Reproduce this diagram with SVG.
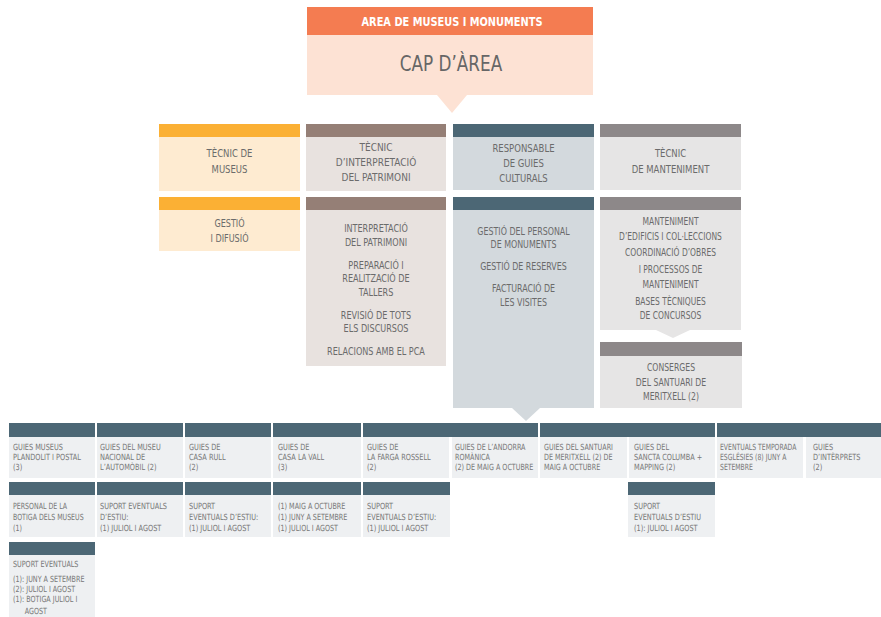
<svg xmlns="http://www.w3.org/2000/svg" width="881" height="617" viewBox="0 0 881 617">
<style>
text{font-family:"DejaVu Sans Condensed","Liberation Sans Narrow","Liberation Sans",sans-serif;fill:#6b6b6b}
.c{text-anchor:middle;font-size:10.5px}
.m{text-anchor:middle;font-size:10px}
.s{font-size:8.5px;fill:#777}
.h1{fill:#fff;font-size:13px;text-anchor:middle;font-weight:bold}
.h2{font-size:22px;text-anchor:middle;fill:#666}
.bh{fill:#4c6775}
.bb{fill:#eef0f2}
</style>
<rect width="881" height="617" fill="#fff"/>
<g id="cap-area">
<rect x="307" y="35" width="286" height="60" fill="#fde2d4"/>
<polygon points="437,95 467,95 452,113" fill="#fde2d4"/>
<rect x="307" y="7" width="286" height="28" fill="#f47c51"/>
<g transform="translate(452 0) scale(0.84 1)"><text class="h1" x="0" y="26">AREA DE MUSEUS I MONUMENTS</text></g>
<g transform="translate(451 0) scale(0.85 1)"><text class="h2" x="0" y="71">CAP D’ÀREA</text></g>
</g>
<g id="tecnic-museus">
<rect x="159" y="137" width="141" height="54" fill="#feebd1"/>
<rect x="159" y="124" width="141" height="13" fill="#fbb034"/>
<g transform="translate(229.5 0) scale(0.9 1)">
<text class="c" x="0" y="157">TÈCNIC DE</text>
<text class="c" x="0" y="173">MUSEUS</text>
</g>
</g>
<g id="gestio-difusio">
<rect x="159" y="210" width="141" height="41" fill="#feebd1"/>
<rect x="159" y="197" width="141" height="13" fill="#fbb034"/>
<g transform="translate(229.5 0) scale(0.9 1)">
<text class="m" x="0" y="227">GESTIÓ</text>
<text class="m" x="0" y="242">I DIFUSIÓ</text>
</g>
</g>
<g id="tecnic-interpretacio">
<rect x="306" y="137" width="140" height="54" fill="#e8e2df"/>
<rect x="306" y="124" width="140" height="13" fill="#957f76"/>
<g transform="translate(376 0) scale(0.95 1)">
<text class="c" x="0" y="151">TÈCNIC</text>
<text class="c" x="0" y="166">D’INTERPRETACIÓ</text>
<text class="c" x="0" y="181">DEL PATRIMONI</text>
</g>
</g>
<g id="interpretacio-tasques">
<rect x="306" y="210" width="140" height="156" fill="#e8e2df"/>
<rect x="306" y="197" width="140" height="13" fill="#957f76"/>
<g transform="translate(376 0) scale(0.9 1)">
<text class="m" x="0" y="232.5">INTERPRETACIÓ</text>
<text class="m" x="0" y="246.5">DEL PATRIMONI</text>
<text class="m" x="0" y="269.5">PREPARACIÓ I</text>
<text class="m" x="0" y="282.5">REALITZACIÓ DE</text>
<text class="m" x="0" y="296.5">TALLERS</text>
<text class="m" x="0" y="319.5">REVISIÓ DE TOTS</text>
<text class="m" x="0" y="332.5">ELS DISCURSOS</text>
<text class="m" x="0" y="355.5">RELACIONS AMB EL PCA</text>
</g>
</g>
<g id="responsable-guies">
<rect x="453" y="137" width="141" height="53" fill="#d3d9dd"/>
<rect x="453" y="124" width="141" height="13" fill="#4c6775"/>
<g transform="translate(523.5 0) scale(0.9 1)">
<text class="c" x="0" y="152">RESPONSABLE</text>
<text class="c" x="0" y="167">DE GUIES</text>
<text class="c" x="0" y="182">CULTURALS</text>
</g>
</g>
<g id="guies-tasques">
<rect x="453" y="210" width="141" height="198" fill="#d3d9dd"/>
<polygon points="512,408 540,408 526,421" fill="#d3d9dd"/>
<rect x="453" y="197" width="141" height="13" fill="#4c6775"/>
<g transform="translate(523.5 0) scale(0.88 1)">
<text class="m" x="0" y="235.5">GESTIÓ DEL PERSONAL</text>
<text class="m" x="0" y="248">DE MONUMENTS</text>
<text class="m" x="0" y="270.5">GESTIÓ DE RESERVES</text>
<text class="m" x="0" y="292.5">FACTURACIÓ DE</text>
<text class="m" x="0" y="306.5">LES VISITES</text>
</g>
</g>
<g id="tecnic-manteniment">
<rect x="600" y="137" width="141" height="53" fill="#e6e5e5"/>
<rect x="600" y="124" width="141" height="13" fill="#8d8889"/>
<g transform="translate(670.5 0) scale(0.9 1)">
<text class="c" x="0" y="157">TÈCNIC</text>
<text class="c" x="0" y="173">DE MANTENIMENT</text>
</g>
</g>
<g id="manteniment-tasques">
<rect x="600" y="210" width="141" height="120" fill="#e6e5e5"/>
<polygon points="656,330 690,330 673,338" fill="#e6e5e5"/>
<rect x="600" y="197" width="141" height="13" fill="#8d8889"/>
<g transform="translate(670.5 0) scale(0.84 1)">
<text class="m" x="0" y="225.5">MANTENIMENT</text>
<text class="m" x="0" y="240.5">D’EDIFICIS I COL·LECCIONS</text>
<text class="m" x="0" y="256.5">COORDINACIÓ D’OBRES</text>
<text class="m" x="0" y="273.5">I PROCESSOS DE</text>
<text class="m" x="0" y="288.5">MANTENIMENT</text>
<text class="m" x="0" y="305.5">BASES TÈCNIQUES</text>
<text class="m" x="0" y="319.5">DE CONCURSOS</text>
</g>
</g>
<g id="conserges">
<rect x="600" y="356" width="142" height="52" fill="#e6e5e5"/>
<rect x="600" y="342" width="142" height="14" fill="#8d8889"/>
<g transform="translate(671 0) scale(0.86 1)">
<text class="m" x="0" y="371.5">CONSERGES</text>
<text class="m" x="0" y="386.5">DEL SANTUARI DE</text>
<text class="m" x="0" y="400.5">MERITXELL (2)</text>
</g>
</g>
<g id="bottom-headers">
<rect class="bh" x="9" y="423" width="86" height="14"/>
<rect class="bh" x="97" y="423" width="86" height="14"/>
<rect class="bh" x="185" y="423" width="86" height="14"/>
<rect class="bh" x="273" y="423" width="88" height="14"/>
<rect class="bh" x="363" y="423" width="175" height="14"/>
<rect class="bh" x="540" y="423" width="175" height="14"/>
<rect class="bh" x="717" y="423" width="164" height="14"/>
</g>
<g id="guies-plandolit">
<rect class="bb" x="9" y="437" width="86" height="41"/>
<g transform="translate(13 0) scale(0.86 1)">
<text class="s" x="0" y="450">GUIES MUSEUS</text>
<text class="s" x="0" y="460">PLANDOLIT I POSTAL</text>
<text class="s" x="0" y="470">(3)</text>
</g>
</g>
<g id="guies-automobil">
<rect class="bb" x="97" y="437" width="86" height="41"/>
<g transform="translate(100 0) scale(0.86 1)">
<text class="s" x="0" y="450">GUIES DEL MUSEU</text>
<text class="s" x="0" y="460">NACIONAL DE</text>
<text class="s" x="0" y="470">L’AUTOMÒBIL (2)</text>
</g>
</g>
<g id="guies-casa-rull">
<rect class="bb" x="185" y="437" width="86" height="41"/>
<g transform="translate(189 0) scale(0.86 1)">
<text class="s" x="0" y="450">GUIES DE</text>
<text class="s" x="0" y="460">CASA RULL</text>
<text class="s" x="0" y="470">(2)</text>
</g>
</g>
<g id="guies-casa-vall">
<rect class="bb" x="273" y="437" width="88" height="41"/>
<g transform="translate(278 0) scale(0.86 1)">
<text class="s" x="0" y="450">GUIES DE</text>
<text class="s" x="0" y="460">CASA LA VALL</text>
<text class="s" x="0" y="470">(3)</text>
</g>
</g>
<g id="guies-farga">
<rect class="bb" x="363" y="437" width="86" height="41"/>
<g transform="translate(367 0) scale(0.86 1)">
<text class="s" x="0" y="450">GUIES DE</text>
<text class="s" x="0" y="460">LA FARGA ROSSELL</text>
<text class="s" x="0" y="470">(2)</text>
</g>
</g>
<g id="guies-andorra-romanica">
<rect class="bb" x="452" y="437" width="86" height="41"/>
<g transform="translate(455 0) scale(0.84 1)">
<text class="s" x="0" y="450">GUIES DE L’ANDORRA</text>
<text class="s" x="0" y="460">ROMÀNICA</text>
<text class="s" x="0" y="470">(2) DE MAIG A OCTUBRE</text>
</g>
</g>
<g id="guies-meritxell">
<rect class="bb" x="540" y="437" width="87" height="41"/>
<g transform="translate(544 0) scale(0.84 1)">
<text class="s" x="0" y="450">GUIES DEL SANTUARI</text>
<text class="s" x="0" y="460">DE MERITXELL (2) DE</text>
<text class="s" x="0" y="470">MAIG A OCTUBRE</text>
</g>
</g>
<g id="guies-sancta-columba">
<rect class="bb" x="629" y="437" width="86" height="41"/>
<g transform="translate(634 0) scale(0.86 1)">
<text class="s" x="0" y="450">GUIES DEL</text>
<text class="s" x="0" y="460">SANCTA COLUMBA +</text>
<text class="s" x="0" y="470">MAPPING (2)</text>
</g>
</g>
<g id="eventuals-esglesies">
<rect class="bb" x="717" y="437" width="86" height="41"/>
<g transform="translate(720 0) scale(0.8 1)">
<text class="s" x="0" y="450">EVENTUALS TEMPORADA</text>
<text class="s" x="0" y="460">ESGLÉSIES (8) JUNY A</text>
<text class="s" x="0" y="470">SETEMBRE</text>
</g>
</g>
<g id="guies-interprets">
<rect class="bb" x="806" y="437" width="75" height="41"/>
<g transform="translate(813 0) scale(0.86 1)">
<text class="s" x="0" y="450">GUIES</text>
<text class="s" x="0" y="460">D’INTÈRPRETS</text>
<text class="s" x="0" y="470">(2)</text>
</g>
</g>
<g id="personal-botiga">
<rect class="bh" x="9" y="482" width="86" height="13"/>
<rect class="bb" x="9" y="495" width="86" height="42"/>
<g transform="translate(13 0) scale(0.82 1)">
<text class="s" x="0" y="509">PERSONAL DE LA</text>
<text class="s" x="0" y="520">BOTIGA DELS MUSEUS</text>
<text class="s" x="0" y="531">(1)</text>
</g>
</g>
<g id="suport-automobil">
<rect class="bh" x="97" y="482" width="86" height="13"/>
<rect class="bb" x="97" y="495" width="86" height="42"/>
<g transform="translate(100 0) scale(0.86 1)">
<text class="s" x="0" y="509">SUPORT EVENTUALS</text>
<text class="s" x="0" y="520">D’ESTIU:</text>
<text class="s" x="0" y="531">(1) JULIOL I AGOST</text>
</g>
</g>
<g id="suport-casa-rull">
<rect class="bh" x="185" y="482" width="86" height="13"/>
<rect class="bb" x="185" y="495" width="86" height="42"/>
<g transform="translate(189 0) scale(0.86 1)">
<text class="s" x="0" y="509">SUPORT</text>
<text class="s" x="0" y="520">EVENTUALS D’ESTIU:</text>
<text class="s" x="0" y="531">(1) JULIOL I AGOST</text>
</g>
</g>
<g id="suport-casa-vall">
<rect class="bh" x="273" y="482" width="88" height="13"/>
<rect class="bb" x="273" y="495" width="88" height="42"/>
<g transform="translate(278 0) scale(0.84 1)">
<text class="s" x="0" y="509">(1) MAIG A OCTUBRE</text>
<text class="s" x="0" y="520">(1) JUNY A SETEMBRE</text>
<text class="s" x="0" y="531">(1) JULIOL I AGOST</text>
</g>
</g>
<g id="suport-farga">
<rect class="bh" x="363" y="482" width="87" height="13"/>
<rect class="bb" x="363" y="495" width="87" height="42"/>
<g transform="translate(367 0) scale(0.86 1)">
<text class="s" x="0" y="509">SUPORT</text>
<text class="s" x="0" y="520">EVENTUALS D’ESTIU:</text>
<text class="s" x="0" y="531">(1) JULIOL I AGOST</text>
</g>
</g>
<g id="suport-sancta-columba">
<rect class="bh" x="628" y="482" width="87" height="13"/>
<rect class="bb" x="628" y="495" width="87" height="42"/>
<g transform="translate(634 0) scale(0.86 1)">
<text class="s" x="0" y="509">SUPORT</text>
<text class="s" x="0" y="520">EVENTUALS D’ESTIU</text>
<text class="s" x="0" y="531">(1): JULIOL I AGOST</text>
</g>
</g>
<g id="suport-eventuals-plandolit">
<rect class="bh" x="9" y="542" width="86" height="13"/>
<rect class="bb" x="9" y="555" width="86" height="62"/>
<g transform="translate(13 0) scale(0.84 1)">
<text class="s" x="0" y="567">SUPORT EVENTUALS</text>
<text class="s" x="0" y="582">(1): JUNY A SETEMBRE</text>
<text class="s" x="0" y="592">(2): JULIOL I AGOST</text>
<text class="s" x="0" y="602">(1): BOTIGA JULIOL I</text>
<text class="s" x="14" y="614">AGOST</text>
</g>
</g>
<g id="connectors"></g>
</svg>
